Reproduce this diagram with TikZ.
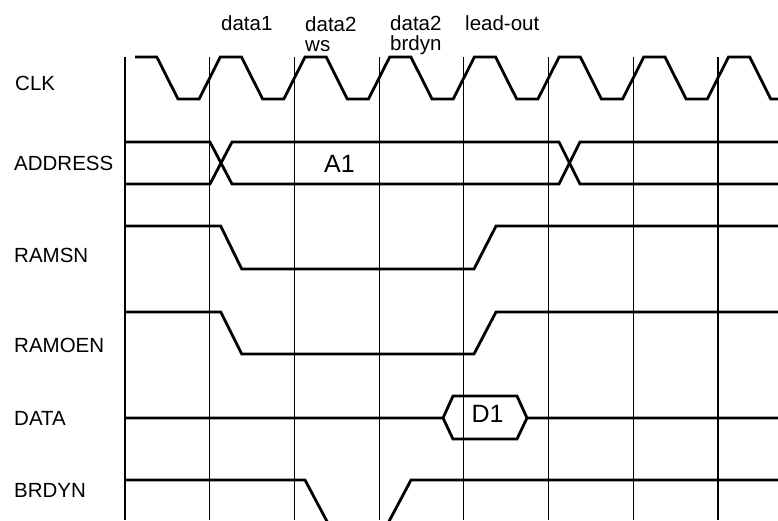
\documentclass[tikz,border=0pt]{standalone}
\usepackage{fontspec}
\setmainfont{Liberation Sans}
\newcommand{\sigfont}{\fontsize{20.5}{20}\selectfont}
\newcommand{\valfont}{\fontsize{25}{25}\selectfont}

\begin{document}
\begin{tikzpicture}[x=1pt, y=-1pt, every node/.style={font=\sigfont, inner sep=0pt},
  grid/.style={line width=1.2pt}, sig/.style={line width=2.8pt},
  lbl/.style={anchor=base west}, cyc/.style={anchor=base west, align=left},
  val/.style={font=\valfont}]
\clip (0,0) rectangle (778,520);
\fill[white] (0,0) rectangle (778,520);
% signal names
\node[lbl] (clk) at (15,90) {CLK};
\node[lbl] (address) at (14,170.7) {ADDRESS};
\node[lbl] (ramsn) at (14,262) {RAMSN};
\node[lbl] (ramoen) at (14,352) {RAMOEN};
\node[lbl] (data) at (14,425) {DATA};
\node[lbl] (brdyn) at (14,497) {BRDYN};
% cycle names (base is the last line)
\node[cyc] (data1) at (221,30.7) {data1};
\node[cyc] (dataws) at (305,51.7) {data2\\ws};
\node[cyc] (databrdyn) at (390,50) {data2\\brdyn};
\node[cyc] (leadout) at (465,30.7) {lead-out};
% clock grid
\foreach \k in {0,...,7}
  \draw[grid] ({125+84.7*\k},57) -- ({125+84.7*\k},520);
\draw[sig] (135,57) -- (156.8,57) -- (178,99) -- (199.1,99)
  \foreach \k in {1,...,7} { -- ({135.6+84.7*\k},57) -- ({156.8+84.7*\k},57)
  -- ({177.9+84.7*\k},99) -- ({199.1+84.7*\k},99) };
% address bus
\draw[sig] (125,142) -- (210,142) -- (232,184) -- (559,184) -- (580,142) -- (778,142);
\draw[sig] (125,184) -- (210,184) -- (232,142) -- (559,142) -- (580,184) -- (778,184);
\node[val] (a1) at (339.5,163.5) {A1};
% ramsn, ramoen
\draw[sig] (125,226) -- (220.7,226) -- (241.7,269) -- (474,269) -- (496,226) -- (778,226);
\draw[sig] (125,312) -- (220.7,312) -- (241.7,354) -- (474,354) -- (496,312) -- (778,312);
% data
\draw[sig] (125,418) -- (443,418) -- (453,396) -- (517,396) -- (527,418) -- (778,418);
\draw[sig] (443,418) -- (453,439) -- (517,439) -- (527,418);
\node[val] (d1) at (487.5,414) {D1};
% brdyn
\draw[sig] (125,480) -- (305,480) -- (330,527) -- (386,527) -- (411,480) -- (778,480);
\end{tikzpicture}
\end{document}
